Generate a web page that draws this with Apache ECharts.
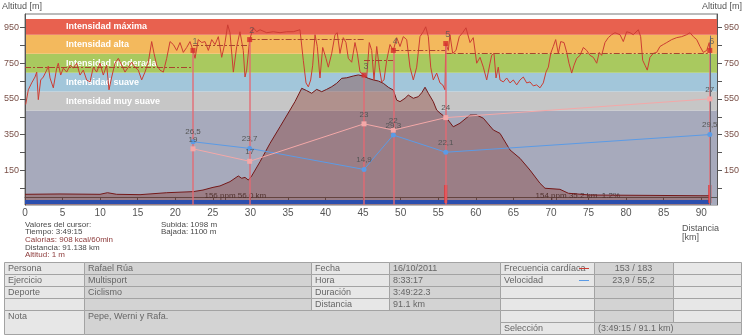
<!DOCTYPE html>
<html>
<head>
<meta charset="utf-8">
<script src="https://cdn.jsdelivr.net/npm/echarts@6/dist/echarts.min.js"></script>
<style>
  html, body { margin: 0; padding: 0; background: #fff; }
  #chart { width: 744px; height: 336px; }
</style>
</head>
<body>
<div id="chart"></div>
<script>
// ---- Route profile: distance (km) and altitude (m)
const altKm = [0, 4.66, 9.98, 10.98, 12.2, 15.31, 18.86, 22.4, 23.69, 25.02, 25.95, 27.28, 28.39, 28.84, 29.28, 29.72,
  30.17, 31.28, 32.61, 33.94, 35.27, 35.93, 36.83, 37.49, 38.16, 38.82, 39.49, 40.15, 40.82, 41.48, 42.15, 42.82,
  43.69, 44.36, 45.02, 45.69, 46.36, 47.02, 47.69, 48.35, 49.02, 49.47, 49.91, 50.58, 51.01, 51.68, 52.35, 52.8,
  53.24, 53.68, 54.34, 54.79, 55.23, 56.12, 57, 57.89, 59.23, 60.12, 61, 62.33, 63.22, 64.55, 65.88, 67.21,
  68.54, 69.21, 71.2, 72.31, 75.2, 83.18, 89.84, 91.1, 91.14];
const altM = [15, 17, 15, 24, 15, 13, 24, 30, 39, 54, 62, 86, 118, 105, 110, 95,
  118, 198, 301, 394, 488, 535, 610, 597, 582, 604, 591, 604, 619, 638, 666, 669,
  679, 685, 679, 666, 657, 651, 638, 616, 600, 544, 535, 554, 572, 554, 563, 585,
  616, 582, 535, 488, 471, 442, 394, 414, 460, 460, 442, 376, 357, 264, 217, 151,
  77, 49, 43, 21, 11, 9, 7, 7, 1];

// ---- Heart rate trace: distance (km) and beats per minute
const hrKm = [0.09, 0.44, 0.89, 1.33, 1.56, 1.77, 2.09, 2.44, 2.89, 3.1, 3.33, 3.77, 4.22, 4.43, 4.75, 5.1, 5.55, 5.99,
  6.43, 6.88, 7.32, 7.76, 8.21, 8.65, 9.09, 9.54, 9.98, 10.42, 10.87, 11.18, 11.54, 11.98, 12.42, 12.87, 13.31, 13.75,
  14.2, 14.64, 15.08, 15.53, 15.97, 16.41, 16.86, 17.17, 17.53, 17.97, 18.41, 18.86, 19.3, 19.74, 20.19, 20.63, 21.07,
  21.52, 21.96, 22.36, 22.63, 23.06, 23.52, 23.96, 24.4, 24.85, 25.29, 25.73, 26.18, 26.62, 26.98, 27.28, 27.73, 28.18,
  28.61, 29.05, 29.28, 29.5, 29.9, 30.38, 30.84, 31.28, 32.17, 33.05, 33.94, 34.83, 35.71, 36.6, 36.83, 37.04, 37.4,
  37.71, 38.02, 38.29, 38.6, 38.9, 39.26, 39.62, 40.06, 40.37, 40.82, 41.26, 41.56, 41.92, 42.36, 42.72, 43.03, 43.48,
  43.92, 44.23, 44.59, 45.12, 45.48, 45.82, 46.14, 46.45, 46.81, 47.15, 47.47, 47.78, 48.14, 48.58, 49.02, 49.47, 49.91,
  50.35, 50.8, 51.24, 51.68, 52.13, 52.57, 53.01, 53.33, 53.68, 54, 54.34, 54.79, 55.23, 55.59, 55.9, 56, 56.34, 56.56,
  56.92, 57.36, 57.8, 58.25, 58.69, 59.23, 59.66, 60.12, 60.56, 61, 61.45, 61.89, 62.11, 62.42, 62.69, 62.99, 63.22,
  63.66, 64.11, 64.55, 64.99, 65.44, 65.88, 66.32, 66.77, 67.21, 67.65, 68.1, 68.54, 68.98, 69.34, 69.65, 69.97, 70.31,
  70.63, 70.98, 71.3, 71.74, 72.1, 72.4, 72.76, 73.07, 73.43, 73.87, 74.31, 74.76, 75.2, 75.64, 76.09, 76.43, 76.75,
  77.19, 77.63, 78.08, 78.52, 79.19, 79.63, 80.08, 80.52, 80.96, 81.63, 81.94, 82.21, 82.52, 82.82, 83.18, 83.62, 84.07,
  84.51, 84.95, 85.41, 86.07, 86.74, 87.4, 88.07, 88.51, 88.95, 89.4, 89.84, 90.28, 90.73, 91.07, 91.14];
const hrBpm = [102, 117, 124, 130, 135, 107, 127, 130, 137, 141, 129, 119, 139, 144, 132, 139, 135, 142,
  139, 144, 132, 137, 127, 125, 140, 135, 144, 132, 142, 117, 130, 144, 149, 142, 135, 140,
  145, 140, 137, 127, 135, 145, 166, 154, 142, 137, 135, 149, 166, 163, 157, 165, 155,
  160, 166, 157, 149, 168, 165, 166, 157, 168, 163, 171, 150, 165, 183, 175, 135, 161,
  176, 157, 130, 137, 168, 180, 176, 178, 175, 176, 175, 176, 176, 178, 176, 147, 124,
  120, 127, 142, 173, 161, 129, 160, 149, 140, 154, 173, 175, 154, 170, 165, 149, 145,
  165, 154, 135, 132, 130, 165, 157, 127, 161, 140, 125, 127, 147, 163, 157, 170, 161,
  171, 168, 140, 127, 140, 171, 176, 181, 171, 140, 127, 134, 124, 122, 117, 164, 157, 173,
  154, 157, 171, 175, 180, 165, 170, 144, 150, 140, 127, 144, 152, 154, 129, 140, 127,
  125, 129, 124, 127, 122, 127, 130, 124, 125, 121, 122, 119, 124, 135, 140, 154, 161,
  168, 154, 166, 165, 155, 144, 134, 142, 149, 152, 160, 157, 152, 150, 144, 155, 152,
  165, 170, 173, 175, 173, 166, 176, 175, 173, 178, 171, 147, 142, 137, 150, 154, 155,
  161, 163, 165, 168, 170, 171, 173, 175, 171, 168, 161, 155, 157, 165, 157];

// ---- Laps
const lapKm = [22.36, 29.9, 45.12, 49.02, 56.0, 91.14];
const lapHr = [157, 168, 132, 157, 164, 157];
const lapAvgHr = [140, 162, 168, 147, 157, 154];
const lapSpeed = [26.5, 23.7, 14.9, 29.3, 22.1, 29.5];
const lapSecond = [19, 17, 23, 22, 24, 27];

// ---- Heart-rate intensity zones (bpm)
const zoneNames = ['', 'Intensidad muy suave', 'Intensidad suave', 'Intensidad moderada', 'Intensidad alta', 'Intensidad máxima'];
const zoneEdges = [0, 96, 115.2, 134.4, 153.6, 172.8, 189];
const zoneColors = ['#a7aabc', '#c6c6c6', '#a2c6da', '#a9c95f', '#f3b95d', '#e8614f'];

// ---- Selection, cursor marks and segment summaries
const selectionKm = [0, 91.14];
const cursorKm = [56.0, 91.14];
const cursorTopHr = 172;
const segmentKm = [[0, 56.0], [56.0, 91.14]];
const segmentText = ['156 ppm 56.0 km', '154 ppm 35.2 km  1.2%'];

// ---- Axis ticks
const altTicks = [50, 150, 250, 350, 450, 550, 650, 750, 850, 950];
const altLabels = [150, 350, 550, 750, 950];

// ---- Summary texts
const cursorLines = ['Valores del cursor:', 'Tiempo: 3:49:15', 'Calorías: 908 kcal/60min', 'Distancia: 91.138 km', 'Altitud: 1 m'];
const cursorColors = ['#4a4a4a', '#4a4a4a', '#8d3b3b', '#4a4a4a', '#8d3b3b'];
const climbLines = ['Subida: 1098 m', 'Bajada: 1100 m'];

// ---- Info table
const tableColX = [4, 84, 311, 389, 500, 594, 673, 741];
const tableRowY = [262, 274, 286, 298, 310, 322, 334];
// row, col, rowSpan, colSpan, text, shaded, align
const tableCells = [
  [0, 0, 1, 1, 'Persona', 0], [0, 1, 1, 1, 'Rafael Rúa', 1], [0, 2, 1, 1, 'Fecha', 0], [0, 3, 1, 1, '16/10/2011', 1],
  [0, 4, 1, 1, 'Frecuencia cardíaca', 0], [0, 5, 1, 1, '153 / 183', 1, 'center'], [0, 6, 1, 1, '', 0],
  [1, 0, 1, 1, 'Ejercicio', 0], [1, 1, 1, 1, 'Multisport', 1], [1, 2, 1, 1, 'Hora', 0], [1, 3, 1, 1, '8:33:17', 1],
  [1, 4, 1, 1, 'Velocidad', 0], [1, 5, 1, 1, '23,9 / 55,2', 1, 'center'], [1, 6, 1, 1, '', 0],
  [2, 0, 1, 1, 'Deporte', 0], [2, 1, 1, 1, 'Ciclismo', 1], [2, 2, 1, 1, 'Duración', 0], [2, 3, 1, 1, '3:49:22.3', 1],
  [2, 4, 1, 1, '', 0], [2, 5, 1, 1, '', 1], [2, 6, 1, 1, '', 0],
  [3, 0, 1, 1, '', 0], [3, 1, 1, 1, '', 1], [3, 2, 1, 1, 'Distancia', 0], [3, 3, 1, 1, '91.1 km', 1],
  [3, 4, 1, 1, '', 0], [3, 5, 1, 1, '', 1], [3, 6, 1, 1, '', 0],
  [4, 0, 2, 1, 'Nota', 0], [4, 1, 2, 3, 'Pepe, Werni y Rafa.', 1], [4, 4, 1, 1, '', 0], [4, 5, 1, 1, '', 1], [4, 6, 1, 1, '', 0],
  [5, 4, 1, 1, 'Selección', 0], [5, 5, 1, 2, '(3:49:15 / 91.1 km)', 1]
];

const FONT = '"Liberation Sans", Arial, sans-serif';
const HR_COLOR = '#cc3d33';
const SPEED_COLOR = '#5b9be6';
const SECOND_COLOR = '#f4a8a8';
const ALT_MIN = -45, ALT_MAX = 1027;

const chart = echarts.init(document.getElementById('chart'), null, { renderer: 'canvas' });

// table graphics
const tableGraphics = [];
tableCells.forEach(c => {
  const [r, col, rs, cs, text, shaded, align] = c;
  const x0 = tableColX[col], x1 = tableColX[col + cs];
  const y0 = tableRowY[r], y1 = tableRowY[r + rs];
  tableGraphics.push({
    type: 'rect', silent: true,
    shape: { x: x0 + 0.5, y: y0 + 0.5, width: x1 - x0, height: y1 - y0 },
    style: { fill: shaded ? '#d3d3d3' : '#e7e7e7', stroke: '#a3a3a3', lineWidth: 1 }
  });
  if (text) {
    const center = align === 'center';
    tableGraphics.push({
      type: 'text', silent: true,
      x: center ? (x0 + x1) / 2 : x0 + 4, y: y0 + 6.5,
      style: { text: text, fill: '#666', font: '9px ' + FONT, textAlign: center ? 'center' : 'left', textVerticalAlign: 'middle' }
    });
  }
});
// line swatches next to the series names
[[HR_COLOR, 268], [SPEED_COLOR, 280]].forEach(([col, y]) => {
  tableGraphics.push({ type: 'line', silent: true, shape: { x1: 579, y1: y + 0.5, x2: 589, y2: y + 0.5 }, style: { stroke: col, lineWidth: 1 } });
});

const textGraphics = [
  { type: 'text', x: 2, y: 7, style: { text: 'Altitud [m]', fill: '#555', font: '9px ' + FONT, textVerticalAlign: 'middle' } },
  { type: 'text', x: 742, y: 7, style: { text: 'Altitud [m]', fill: '#555', font: '9px ' + FONT, textAlign: 'right', textVerticalAlign: 'middle' } },
  { type: 'text', x: 682, y: 228.5, style: { text: 'Distancia', fill: '#555', font: '9px ' + FONT, textVerticalAlign: 'middle' } },
  { type: 'text', x: 682, y: 238, style: { text: '[km]', fill: '#555', font: '9px ' + FONT, textVerticalAlign: 'middle' } }
];
cursorLines.forEach((t, i) => {
  textGraphics.push({ type: 'text', x: 25, y: 224.3 + i * 7.7, style: { text: t, fill: cursorColors[i], font: '8px ' + FONT, textVerticalAlign: 'middle' } });
});
climbLines.forEach((t, i) => {
  textGraphics.push({ type: 'text', x: 161, y: 224.3 + i * 7.7, style: { text: t, fill: '#4a4a4a', font: '8px ' + FONT, textVerticalAlign: 'middle' } });
});

const commaFmt = p => String(p.value[1]).replace('.', ',');

// vertical lap lines plus the cursor line at the end of the selection
const lapLines = lapKm.map((k, i) => [{ coord: [k, lapHr[i]] }, { coord: [k, 0] }]);
lapLines.push([
  { coord: [cursorKm[cursorKm.length - 1], cursorTopHr], lineStyle: { color: '#6c6c78', width: 1, type: 'solid' } },
  { coord: [cursorKm[cursorKm.length - 1], 0] }
]);

const option = {
  animation: false,
  textStyle: { fontFamily: FONT },
  grid: { left: 25, top: 14, width: 692, height: 191, show: true, borderColor: '#777', borderWidth: 1, backgroundColor: '#fff' },
  xAxis: {
    type: 'value', min: 0, max: 92.1, interval: 5,
    axisLine: { show: true, lineStyle: { color: '#555' } },
    axisTick: { show: true, length: 5, lineStyle: { color: '#555' } },
    axisLabel: { fontSize: 10, color: '#555', margin: 3, showMaxLabel: false },
    splitLine: { show: false }
  },
  yAxis: [
    {
      type: 'value', min: ALT_MIN, max: ALT_MAX, position: 'left',
      axisLine: { show: true, lineStyle: { color: '#555' } },
      axisTick: { show: true, length: 5, customValues: altTicks, lineStyle: { color: '#555' } },
      axisLabel: { customValues: altLabels, fontSize: 9, color: '#7a5048', margin: 6 },
      splitLine: { show: false }
    },
    {
      type: 'value', min: ALT_MIN, max: ALT_MAX, position: 'right',
      axisLine: { show: true, lineStyle: { color: '#555' } },
      axisTick: { show: true, length: 5, customValues: altTicks, lineStyle: { color: '#555' } },
      axisLabel: { customValues: altLabels, fontSize: 9, color: '#7a5048', margin: 7 },
      splitLine: { show: false }
    },
    { type: 'value', min: 0, max: 194, show: false },
    { type: 'value', min: 0, max: 80, show: false },
    { type: 'value', min: 10, max: 40.6, show: false }
  ],
  graphic: tableGraphics.concat(textGraphics),
  series: [
    {
      // intensity zones behind everything
      type: 'custom', name: 'zones', yAxisIndex: 2, z: 0, silent: true, clip: true,
      data: zoneNames.map((n, i) => [zoneEdges[i], zoneEdges[i + 1], i]),
      renderItem(params, api) {
        const cs = params.coordSys;
        const i = api.value(2);
        const yLo = api.coord([0, api.value(0)])[1];
        const yHi = api.coord([0, api.value(1)])[1];
        const children = [{ type: 'rect', shape: { x: cs.x, y: yHi, width: cs.width, height: yLo - yHi }, style: { fill: zoneColors[i] } }];
        if (zoneNames[i]) {
          children.push({ type: 'text', x: cs.x + 41, y: (yLo + yHi) / 2,
            style: { text: zoneNames[i], fill: '#fff', font: 'bold 9px ' + FONT, textVerticalAlign: 'middle' } });
        }
        return { type: 'group', children };
      }
    },
    {
      // segment summaries near the bottom
      type: 'custom', name: 'segments', yAxisIndex: 0, z: 1, silent: true,
      data: segmentKm.map((s, i) => [s[0], s[1], i]),
      renderItem(params, api) {
        const a = api.coord([api.value(0), ALT_MIN]);
        const b = api.coord([api.value(1), ALT_MIN]);
        return { type: 'text', x: (a[0] + b[0]) / 2, y: a[1] - 9,
          style: { text: segmentText[api.value(2)], fill: '#3a3a3a', font: '8px ' + FONT, textAlign: 'center', textVerticalAlign: 'middle' } };
      }
    },
    {
      type: 'line', name: 'Altitud', yAxisIndex: 0, z: 2, silent: true,
      data: altKm.map((k, i) => [k, altM[i]]),
      symbol: 'none',
      lineStyle: { color: '#741818', width: 1 },
      areaStyle: { color: 'rgba(130,30,20,0.45)', origin: 'start' }
    },
    {
      type: 'line', name: 'Frecuencia cardíaca', yAxisIndex: 2, z: 3, silent: true,
      data: hrKm.map((k, i) => [k, hrBpm[i]]),
      symbol: 'none',
      lineStyle: { color: HR_COLOR, width: 1 },
      markLine: {
        silent: true, symbol: ['none', 'none'], label: { show: false },
        lineStyle: { color: '#a8452f', width: 1, type: [6, 2, 2, 2] },
        data: lapAvgHr.map((v, i) => [{ coord: [i ? lapKm[i - 1] : 0, v] }, { coord: [lapKm[i], v] }])
      }
    },
    {
      // selection bar and cursor marks
      type: 'custom', name: 'selection', yAxisIndex: 0, z: 4, silent: true,
      data: [[selectionKm[0], selectionKm[1], 0]].concat(cursorKm.map(k => [k, k, 1])),
      renderItem(params, api) {
        const a = api.coord([api.value(0), ALT_MIN]);
        const b = api.coord([api.value(1), ALT_MIN]);
        if (api.value(2) === 0) {
          return { type: 'rect', shape: { x: a[0], y: a[1] - 5, width: b[0] - a[0], height: 4 }, style: { fill: '#2c4fae' } };
        }
        return { type: 'rect', shape: { x: a[0] - 1.5, y: a[1] - 20, width: 3, height: 18 }, style: { fill: '#e23434' } };
      }
    },
    {
      type: 'line', name: 'Velocidad', yAxisIndex: 3, z: 5, silent: true,
      data: lapKm.map((k, i) => [k, lapSpeed[i]]),
      symbol: 'circle', symbolSize: 5,
      itemStyle: { color: SPEED_COLOR },
      lineStyle: { color: SPEED_COLOR, width: 1 },
      label: { show: true, position: 'top', distance: 3, fontSize: 8, color: '#555', formatter: commaFmt }
    },
    {
      type: 'line', name: 'vueltas', yAxisIndex: 4, z: 5, silent: true,
      data: lapKm.map((k, i) => [k, lapSecond[i]]),
      symbol: 'rect', symbolSize: 5,
      itemStyle: { color: SECOND_COLOR },
      lineStyle: { color: SECOND_COLOR, width: 1 },
      label: { show: true, position: 'top', distance: 3, fontSize: 8, color: '#555', formatter: commaFmt }
    },
    {
      type: 'scatter', name: 'laps', yAxisIndex: 2, z: 6, silent: true,
      data: lapKm.map((k, i) => [k, lapHr[i]]),
      symbol: 'rect', symbolSize: 5,
      itemStyle: { color: '#d42a2a' },
      label: { show: true, position: 'top', distance: 2, offset: [2, 0], fontSize: 9, color: '#555', formatter: p => String(p.dataIndex + 1) },
      markLine: {
        silent: true, symbol: ['none', 'none'], label: { show: false },
        lineStyle: { color: 'rgba(228,104,114,0.85)', width: 1.6, type: 'solid' },
        data: lapLines
      }
    }
  ]
};

chart.setOption(option);
</script>
</body>
</html>
